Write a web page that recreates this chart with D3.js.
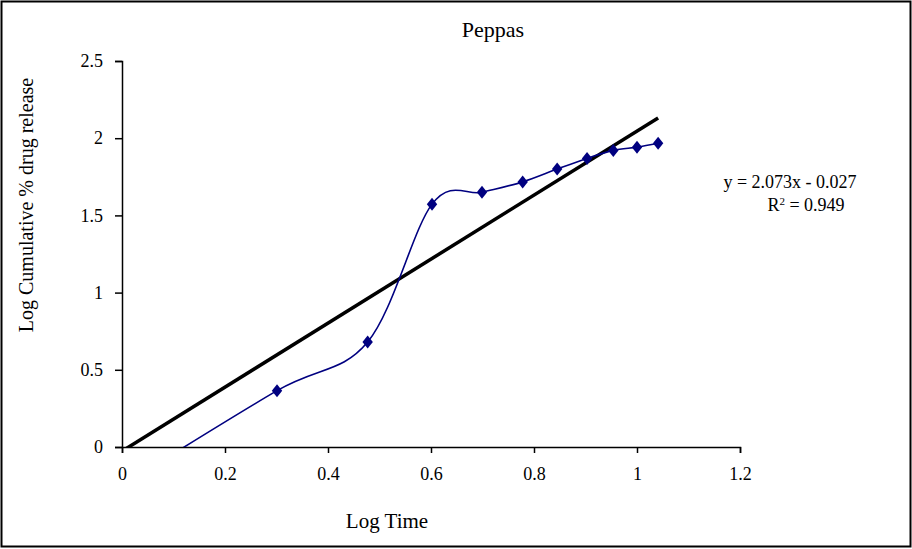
<!DOCTYPE html>
<html>
<head>
<meta charset="utf-8">
<script src="https://cdn.jsdelivr.net/npm/d3@7"></script>
<style>
  body { margin: 0; background: #fff; }
  text { font-family: "Liberation Serif", "Times New Roman", serif; fill: #000; }
</style>
</head>
<body>
<svg id="chart" width="912" height="549"></svg>
<script>
// data (log time vs log cumulative % drug release)
var logTime = [0, 0.301, 0.477, 0.602, 0.699, 0.778, 0.845, 0.903, 0.954, 1.0, 1.041];
var logRelease = [-0.25, 0.365, 0.68, 1.573, 1.65, 1.717, 1.8, 1.869, 1.921, 1.942, 1.967];
var xTicks = [0, 0.2, 0.4, 0.6, 0.8, 1, 1.2];
var yTicks = [0, 0.5, 1, 1.5, 2, 2.5];
var slope = 2.073, intercept = -0.027;
var eqLabel = "y = 2.073x - 0.027";
var r2Label = "= 0.949";

var svg = d3.select("#chart"),
  width = +svg.attr("width"),
  height = +svg.attr("height");

// outer frame
svg.append("rect")
  .attr("x", 1.5).attr("y", 1.5)
  .attr("width", width - 3).attr("height", height - 4)
  .attr("fill", "none").attr("stroke", "#000").attr("stroke-width", 2);

var margin = { top: 61, left: 122, right: 172, bottom: 102 };
var pw = width - margin.left - margin.right,
  ph = height - margin.top - margin.bottom;

var x = d3.scaleLinear().domain([0, 1.2]).range([0, pw]);
var y = d3.scaleLinear().domain([0, 2.5]).range([ph, 0]);

var g = svg.append("g")
  .attr("transform", "translate(" + margin.left + "," + margin.top + ")");

g.append("clipPath").attr("id", "clip")
  .append("rect").attr("x", 0).attr("y", -5).attr("width", pw).attr("height", ph + 5);

// axes
var xAxis = g.append("g")
  .attr("transform", "translate(0," + ph + ")")
  .call(d3.axisBottom(x).tickValues(xTicks).tickSize(6).tickPadding(14).tickFormat(d3.format("")));
var yAxis = g.append("g")
  .call(d3.axisLeft(y).tickValues(yTicks).tickSize(7).tickPadding(12).tickFormat(d3.format("")));

[xAxis, yAxis].forEach(function (a) {
  a.select(".domain").attr("stroke", "#000").attr("stroke-width", 1.5);
  a.selectAll(".tick line").attr("stroke", "#000").attr("stroke-width", 1.5);
  a.selectAll(".tick text").style("font-size", "18px").attr("font-family", "Liberation Serif");
});

// trendline
g.append("line")
  .attr("clip-path", "url(#clip)")
  .attr("x1", x(0)).attr("y1", y(intercept))
  .attr("x2", x(logTime[logTime.length - 1]))
  .attr("y2", y(slope * logTime[logTime.length - 1] + intercept))
  .attr("stroke", "#000").attr("stroke-width", 3.5);

// smoothed data line
var pts = logTime.map(function (d, i) { return [d, logRelease[i]]; });
var line = d3.line()
  .x(function (d) { return x(d[0]); })
  .y(function (d) { return y(d[1]); })
  .curve(d3.curveCardinal.tension(0));

g.append("path")
  .datum(pts)
  .attr("clip-path", "url(#clip)")
  .attr("d", line)
  .attr("fill", "none")
  .attr("stroke", "#000080")
  .attr("stroke-width", 1.6);

// diamond markers
g.selectAll(".pt")
  .data(pts.filter(function (d) { return d[1] >= 0; }))
  .enter()
  .append("path")
  .attr("class", "pt")
  .attr("transform", function (d) { return "translate(" + x(d[0]) + "," + y(d[1]) + ")"; })
  .attr("d", "M0,-6.5L5.2,0L0,6.5L-5.2,0Z")
  .attr("fill", "#000080");

// titles
svg.append("text")
  .attr("x", 493).attr("y", 37)
  .attr("text-anchor", "middle")
  .style("font-size", "22px")
  .text("Peppas");

svg.append("text")
  .attr("x", 387).attr("y", 528)
  .attr("text-anchor", "middle")
  .style("font-size", "21px")
  .text("Log Time");

svg.append("text")
  .attr("transform", "translate(33,205) rotate(-90)")
  .attr("text-anchor", "middle")
  .style("font-size", "20px")
  .text("Log Cumulative % drug release");

// trendline label
svg.append("text")
  .attr("x", 790).attr("y", 188)
  .attr("text-anchor", "middle")
  .style("font-size", "18px")
  .text(eqLabel);

var r2 = svg.append("text")
  .attr("x", 806).attr("y", 211)
  .attr("text-anchor", "middle")
  .style("font-size", "18px");
r2.append("tspan").text("R");
r2.append("tspan").attr("dy", -6).style("font-size", "11px").text("2");
r2.append("tspan").attr("dy", 6).text(" " + r2Label);
</script>
</body>
</html>
